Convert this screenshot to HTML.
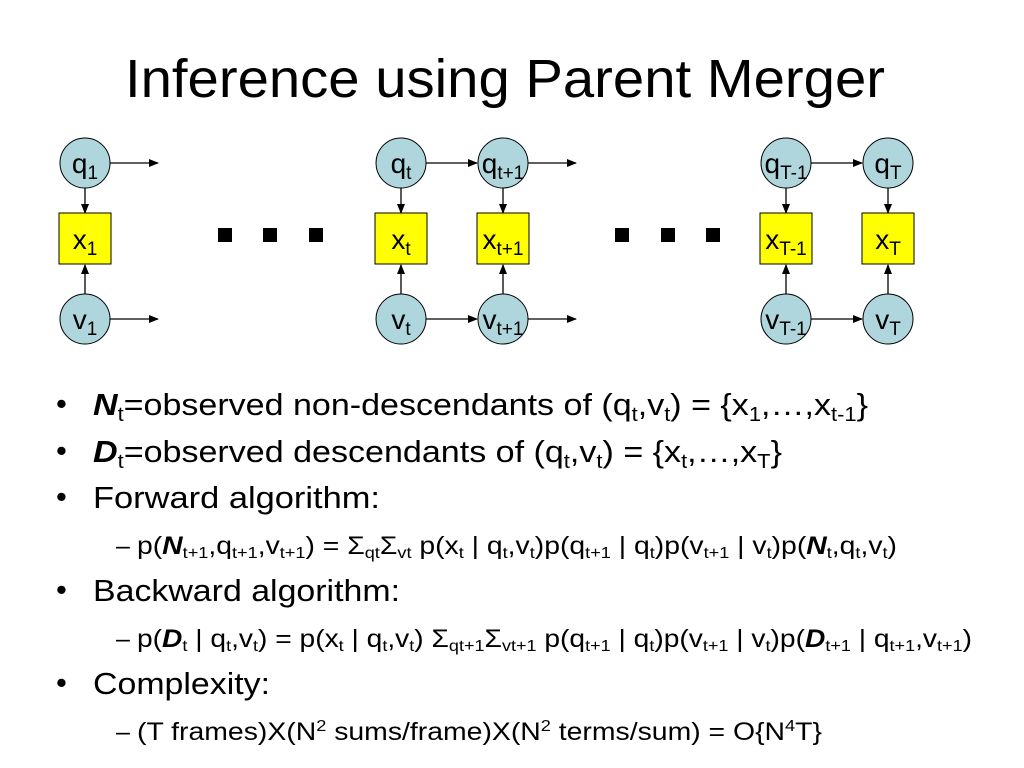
<!DOCTYPE html>
<html><head><meta charset="utf-8"><style>
html,body{margin:0;padding:0;background:#fff}
svg{display:block}
text{font-family:"Liberation Sans",Arial,sans-serif;fill:#000}
</style></head><body>
<svg width="1024" height="768" viewBox="0 0 1024 768" xmlns="http://www.w3.org/2000/svg">
<defs>
<marker id="a" markerWidth="10" markerHeight="8" refX="9" refY="4" orient="auto" markerUnits="userSpaceOnUse">
<path d="M0,0 L10,4 L0,8 z" fill="#000"/></marker>
</defs>
<text x="125" y="97" font-size="54" textLength="760" lengthAdjust="spacingAndGlyphs">Inference using Parent Merger</text>

<g stroke="#000" stroke-width="1.3" marker-end="url(#a)">
<line x1="110" y1="163" x2="158" y2="163"/>
<line x1="110" y1="319" x2="158" y2="319"/>
<line x1="85" y1="188" x2="85" y2="213"/>
<line x1="85" y1="294" x2="85" y2="265"/>
<line x1="426" y1="163" x2="477" y2="163"/>
<line x1="426" y1="319" x2="477" y2="319"/>
<line x1="528" y1="163" x2="576" y2="163"/>
<line x1="528" y1="319" x2="576" y2="319"/>
<line x1="401" y1="188" x2="401" y2="213"/>
<line x1="503" y1="188" x2="503" y2="213"/>
<line x1="401" y1="294" x2="401" y2="265"/>
<line x1="503" y1="294" x2="503" y2="265"/>
<line x1="811" y1="163" x2="862" y2="163"/>
<line x1="811" y1="319" x2="862" y2="319"/>
<line x1="786" y1="188" x2="786" y2="213"/>
<line x1="888" y1="188" x2="888" y2="213"/>
<line x1="786" y1="294" x2="786" y2="265"/>
<line x1="888" y1="294" x2="888" y2="265"/>
</g>

<g fill="#aed6dc" stroke="#000" stroke-width="1">
<circle cx="85" cy="163" r="25"/><circle cx="85" cy="319" r="25"/>
<circle cx="401" cy="163" r="25"/><circle cx="401" cy="319" r="25"/>
<circle cx="503" cy="163" r="25"/><circle cx="503" cy="319" r="25"/>
<circle cx="786" cy="163" r="25"/><circle cx="786" cy="319" r="25"/>
<circle cx="888" cy="163" r="25"/><circle cx="888" cy="319" r="25"/>
</g>
<g fill="#ffff00" stroke="#000" stroke-width="1">
<rect x="59" y="213" width="52" height="51"/>
<rect x="375" y="213" width="52" height="51"/>
<rect x="477" y="213" width="52" height="51"/>
<rect x="760" y="213" width="52" height="51"/>
<rect x="862" y="213" width="52" height="51"/>
</g>
<g fill="#000">
<rect x="218" y="228" width="14" height="14"/><rect x="263" y="228" width="14" height="14"/><rect x="309" y="228" width="14" height="14"/>
<rect x="615" y="228" width="14" height="14"/><rect x="661" y="228" width="14" height="14"/><rect x="706" y="228" width="14" height="14"/>
</g>

<g font-size="28" text-anchor="middle">
<text x="85" y="173">q<tspan font-size="19" dy="6">1</tspan></text>
<text x="85" y="249">x<tspan font-size="19" dy="6">1</tspan></text>
<text x="85" y="329">v<tspan font-size="19" dy="6">1</tspan></text>
<text x="401" y="173">q<tspan font-size="19" dy="6">t</tspan></text>
<text x="401" y="249">x<tspan font-size="19" dy="6">t</tspan></text>
<text x="401" y="329">v<tspan font-size="19" dy="6">t</tspan></text>
<text x="503" y="173">q<tspan font-size="19" dy="6">t+1</tspan></text>
<text x="503" y="249">x<tspan font-size="19" dy="6">t+1</tspan></text>
<text x="503" y="329">v<tspan font-size="19" dy="6">t+1</tspan></text>
<text x="786" y="173">q<tspan font-size="19" dy="6">T-1</tspan></text>
<text x="786" y="249">x<tspan font-size="19" dy="6">T-1</tspan></text>
<text x="786" y="329">v<tspan font-size="19" dy="6">T-1</tspan></text>
<text x="888" y="173">q<tspan font-size="19" dy="6">T</tspan></text>
<text x="888" y="249">x<tspan font-size="19" dy="6">T</tspan></text>
<text x="888" y="329">v<tspan font-size="19" dy="6">T</tspan></text>
</g>

<g font-size="31">
<text x="56" y="414">•</text><text x="56" y="461">•</text><text x="56" y="507">•</text>
<text x="56" y="600">•</text><text x="56" y="693">•</text>
<text x="93" y="415" textLength="775" lengthAdjust="spacingAndGlyphs"><tspan font-weight="bold" font-style="italic">N</tspan><tspan font-size="20" dy="6">t</tspan><tspan dy="-6">=observed non-descendants of (q</tspan><tspan font-size="20" dy="6">t</tspan><tspan dy="-6">,v</tspan><tspan font-size="20" dy="6">t</tspan><tspan dy="-6">) = {x</tspan><tspan font-size="20" dy="6">1</tspan><tspan dy="-6">,…,x</tspan><tspan font-size="20" dy="6">t-1</tspan><tspan dy="-6">}</tspan></text>
<text x="93" y="462" textLength="689" lengthAdjust="spacingAndGlyphs"><tspan font-weight="bold" font-style="italic">D</tspan><tspan font-size="20" dy="6">t</tspan><tspan dy="-6">=observed descendants of (q</tspan><tspan font-size="20" dy="6">t</tspan><tspan dy="-6">,v</tspan><tspan font-size="20" dy="6">t</tspan><tspan dy="-6">) = {x</tspan><tspan font-size="20" dy="6">t</tspan><tspan dy="-6">,…,x</tspan><tspan font-size="20" dy="6">T</tspan><tspan dy="-6">}</tspan></text>
<text x="93" y="508" textLength="287" lengthAdjust="spacingAndGlyphs">Forward algorithm:</text>
<text x="93" y="601" textLength="307" lengthAdjust="spacingAndGlyphs">Backward algorithm:</text>
<text x="93" y="694" textLength="177" lengthAdjust="spacingAndGlyphs">Complexity:</text>
</g>
<g font-size="25">
<text x="116" y="554">–</text><text x="116" y="647">–</text><text x="116" y="740">–</text>
<text x="137" y="554" textLength="760" lengthAdjust="spacingAndGlyphs">p(<tspan font-weight="bold" font-style="italic">N</tspan><tspan font-size="16" dy="4">t+1</tspan><tspan dy="-4">,q</tspan><tspan font-size="16" dy="4">t+1</tspan><tspan dy="-4">,v</tspan><tspan font-size="16" dy="4">t+1</tspan><tspan dy="-4">) = Σ</tspan><tspan font-size="16" dy="4">qt</tspan><tspan dy="-4">Σ</tspan><tspan font-size="16" dy="4">vt</tspan><tspan dy="-4"> p(x</tspan><tspan font-size="16" dy="4">t</tspan><tspan dy="-4"> | q</tspan><tspan font-size="16" dy="4">t</tspan><tspan dy="-4">,v</tspan><tspan font-size="16" dy="4">t</tspan><tspan dy="-4">)p(q</tspan><tspan font-size="16" dy="4">t+1</tspan><tspan dy="-4"> | q</tspan><tspan font-size="16" dy="4">t</tspan><tspan dy="-4">)p(v</tspan><tspan font-size="16" dy="4">t+1</tspan><tspan dy="-4"> | v</tspan><tspan font-size="16" dy="4">t</tspan><tspan dy="-4">)p(</tspan><tspan font-weight="bold" font-style="italic">N</tspan><tspan font-size="16" dy="4">t</tspan><tspan dy="-4">,q</tspan><tspan font-size="16" dy="4">t</tspan><tspan dy="-4">,v</tspan><tspan font-size="16" dy="4">t</tspan><tspan dy="-4">)</tspan></text>
<text x="137" y="647" textLength="835" lengthAdjust="spacingAndGlyphs">p(<tspan font-weight="bold" font-style="italic">D</tspan><tspan font-size="16" dy="4">t</tspan><tspan dy="-4"> | q</tspan><tspan font-size="16" dy="4">t</tspan><tspan dy="-4">,v</tspan><tspan font-size="16" dy="4">t</tspan><tspan dy="-4">) = p(x</tspan><tspan font-size="16" dy="4">t</tspan><tspan dy="-4"> | q</tspan><tspan font-size="16" dy="4">t</tspan><tspan dy="-4">,v</tspan><tspan font-size="16" dy="4">t</tspan><tspan dy="-4">) Σ</tspan><tspan font-size="16" dy="4">qt+1</tspan><tspan dy="-4">Σ</tspan><tspan font-size="16" dy="4">vt+1</tspan><tspan dy="-4"> p(q</tspan><tspan font-size="16" dy="4">t+1</tspan><tspan dy="-4"> | q</tspan><tspan font-size="16" dy="4">t</tspan><tspan dy="-4">)p(v</tspan><tspan font-size="16" dy="4">t+1</tspan><tspan dy="-4"> | v</tspan><tspan font-size="16" dy="4">t</tspan><tspan dy="-4">)p(</tspan><tspan font-weight="bold" font-style="italic">D</tspan><tspan font-size="16" dy="4">t+1</tspan><tspan dy="-4"> | q</tspan><tspan font-size="16" dy="4">t+1</tspan><tspan dy="-4">,v</tspan><tspan font-size="16" dy="4">t+1</tspan><tspan dy="-4">)</tspan></text>
<text x="137" y="740" textLength="685" lengthAdjust="spacingAndGlyphs">(T frames)X(N<tspan font-size="16" dy="-9">2</tspan><tspan dy="9"> sums/frame)X(N</tspan><tspan font-size="16" dy="-9">2</tspan><tspan dy="9"> terms/sum) = O{N</tspan><tspan font-size="16" dy="-9">4</tspan><tspan dy="9">T}</tspan></text>
</g>
</svg>
</body></html>
